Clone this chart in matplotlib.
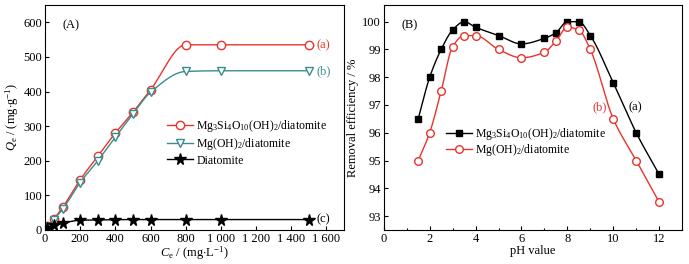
import numpy as np
import matplotlib
matplotlib.use('Agg')
import matplotlib.pyplot as plt
from matplotlib.ticker import MultipleLocator, FuncFormatter

matplotlib.rcParams['font.family'] = 'serif'
matplotlib.rcParams['font.serif'] = ['Liberation Serif', 'DejaVu Serif']
matplotlib.rcParams['mathtext.fontset'] = 'custom'
matplotlib.rcParams['mathtext.rm'] = 'Liberation Serif'
matplotlib.rcParams['mathtext.it'] = 'Liberation Serif:italic'

# ---------------- data: panel A (adsorption isotherm) ----------------
ce = [10, 50, 100, 200, 300, 400, 500, 600, 800, 1000, 1500]
qe_a = [10, 32, 65, 145, 213, 280, 340, 405, 535, 535, 535]
qe_b = [8, 30, 60, 137, 200, 268, 335, 398, 458, 460, 460]
qe_c = [5, 15, 20, 28, 29, 30, 30, 30, 30, 30, 30]

# ---------------- data: panel B (pH effect) ----------------
ph = [1.5, 2, 2.5, 3, 3.5, 4, 5, 6, 7, 7.5, 8, 8.5, 9, 10, 11, 12]
rem_a = [96.5, 98.0, 99.0, 99.7, 100.0, 99.8, 99.5, 99.2, 99.4, 99.6, 100.0, 100.0, 99.5, 97.8, 96.0, 94.5]
rem_b = [95.0, 96.0, 97.5, 99.1, 99.5, 99.5, 99.0, 98.7, 98.9, 99.3, 99.8, 99.7, 99.0, 96.5, 95.0, 93.5]

red = '#e8342c'
teal = '#3a8c8e'


def pchip(x, y, n=400):
    # monotone cubic interpolation (for smooth connecting lines)
    x = np.asarray(x, float)
    y = np.asarray(y, float)
    h = np.diff(x)
    d = np.diff(y) / h
    m = np.zeros_like(y)
    for k in range(1, len(x) - 1):
        if d[k - 1] * d[k] > 0:
            w1 = 2 * h[k] + h[k - 1]
            w2 = h[k] + 2 * h[k - 1]
            m[k] = (w1 + w2) / (w1 / d[k - 1] + w2 / d[k])
    m[0] = d[0]
    m[-1] = d[-1]
    xs = np.linspace(x[0], x[-1], n)
    idx = np.clip(np.searchsorted(x, xs) - 1, 0, len(x) - 2)
    t = (xs - x[idx]) / h[idx]
    h00 = 2 * t**3 - 3 * t**2 + 1
    h10 = t**3 - 2 * t**2 + t
    h01 = -2 * t**3 + 3 * t**2
    h11 = t**3 - t**2
    ys = h00 * y[idx] + h10 * h[idx] * m[idx] + h01 * y[idx + 1] + h11 * h[idx] * m[idx + 1]
    return xs, ys


fs = 9
lfs = 8.5
fig = plt.figure(figsize=(6.89, 2.64), dpi=100)
ax1 = fig.add_axes([0.0653, 0.129, 0.434, 0.852])
ax2 = fig.add_axes([0.557, 0.129, 0.433, 0.852])

# ---- panel A ----
for y, c, mk, lab in [(qe_a, red, 'o', r'Mg$_3$Si$_4$O$_{10}$(OH)$_2$/diatomite'),
                      (qe_b, teal, 'v', r'Mg(OH)$_2$/diatomite')]:
    xs, ys = pchip(ce, y)
    ax1.plot(xs, ys, color=c, lw=1.0)
    ax1.plot(ce, y, linestyle='none', marker=mk, ms=6, mfc='white', mec=c, mew=1.0)
    ax1.plot([], [], color=c, lw=1.0, marker=mk, ms=6, mfc='white', mec=c, mew=1.0, label=lab)
xs, ys = pchip(ce, qe_c)
ax1.plot(xs, ys, color='black', lw=1.0)
ax1.plot(ce, qe_c, linestyle='none', marker='*', ms=8.5, color='black')
ax1.plot([], [], color='black', lw=1.0, marker='*', ms=8.5, label='Diatomite')

ax1.set_xlim(0, 1700)
ax1.set_ylim(0, 650)
ax1.xaxis.set_major_locator(MultipleLocator(200))
ax1.yaxis.set_major_locator(MultipleLocator(100))
ax1.xaxis.set_major_formatter(FuncFormatter(lambda v, p: f'{int(v):,}'.replace(',', ' ')))
ax1.set_xlabel(r'$C_{\rm e}$ / (mg$\cdot$L$^{-1}$)', fontsize=fs, labelpad=0)
ax1.set_ylabel(r'$Q_{\rm e}$ / (mg$\cdot$g$^{-1}$)', fontsize=fs, labelpad=2)
ax1.text(0.06, 0.91, '(A)', transform=ax1.transAxes, fontsize=fs, va='center')
ax1.text(1545, 535, '(a)', color=red, fontsize=fs, va='center')
ax1.text(1545, 458, '(b)', color=teal, fontsize=fs, va='center')
ax1.text(1545, 30, '(c)', color='black', fontsize=fs, va='center')
ax1.legend(loc='upper left', bbox_to_anchor=(0.38, 0.535), frameon=False, fontsize=lfs,
           handlelength=2.2, handletextpad=0.3, labelspacing=0.2, borderpad=0.2)

# ---- panel B ----
xs, ys = pchip(ph, rem_a)
ax2.plot(xs, ys, color='black', lw=1.0)
ax2.plot(ph, rem_a, linestyle='none', marker='s', ms=5, color='black')
ax2.plot([], [], color='black', lw=1.0, marker='s', ms=5, label=r'Mg$_3$Si$_4$O$_{10}$(OH)$_2$/diatomite')
xs, ys = pchip(ph, rem_b)
ax2.plot(xs, ys, color=red, lw=1.0)
ax2.plot(ph, rem_b, linestyle='none', marker='o', ms=5.5, mfc='white', mec=red, mew=1.0)
ax2.plot([], [], color=red, lw=1.0, marker='o', ms=5.5, mfc='white', mec=red, mew=1.0, label=r'Mg(OH)$_2$/diatomite')

ax2.set_xlim(0, 13)
ax2.set_ylim(92.5, 100.6)
ax2.xaxis.set_major_locator(MultipleLocator(2))
ax2.xaxis.set_minor_locator(MultipleLocator(1))
ax2.yaxis.set_major_locator(MultipleLocator(1))
ax2.set_xlabel('pH value', fontsize=fs, labelpad=0)
ax2.set_ylabel('Removal efficiency / %', fontsize=fs, labelpad=2)
ax2.text(0.06, 0.91, '(B)', transform=ax2.transAxes, fontsize=fs, va='center')
ax2.text(10.65, 96.9, '(a)', color='black', fontsize=fs, va='center')
ax2.text(9.1, 96.9, '(b)', color=red, fontsize=fs, va='center')
ax2.legend(loc='upper left', bbox_to_anchor=(0.18, 0.5), frameon=False, fontsize=lfs,
           handlelength=2.2, handletextpad=0.3, labelspacing=0.05, borderpad=0.2)

for ax in (ax1, ax2):
    ax.tick_params(which='major', direction='in', length=3, width=0.8, labelsize=fs, pad=2)
    ax.tick_params(which='minor', direction='in', length=1.5, width=0.8)
    for s in ax.spines.values():
        s.set_linewidth(0.8)

fig.savefig('out.png', dpi=100)
